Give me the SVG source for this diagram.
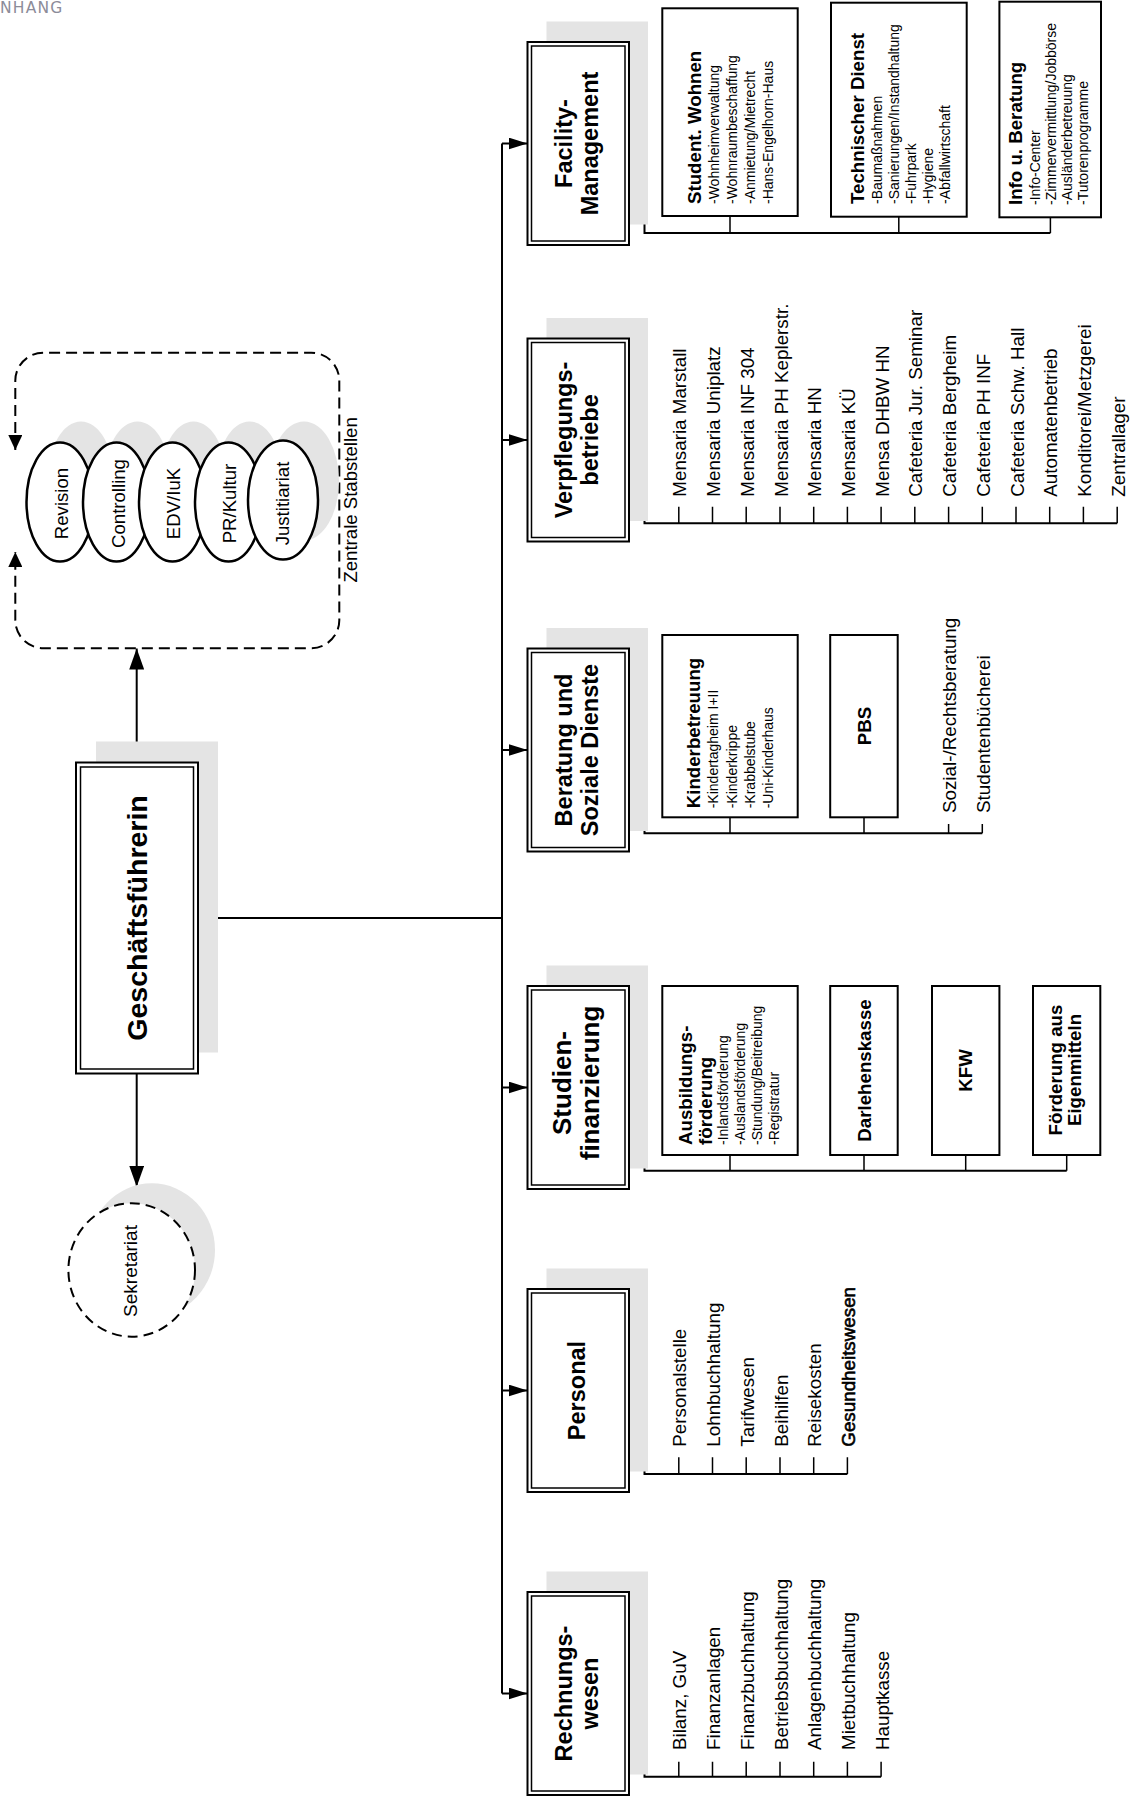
<svg xmlns="http://www.w3.org/2000/svg" width="1133" height="1796" viewBox="0 0 1133 1796">
<defs>
<style>
text { font-family: "Liberation Sans", Arial, sans-serif; fill: #000; }
.sh { fill: #e4e4e4; stroke: none; }
.box { fill: #fff; stroke: #000; stroke-width: 2; }
.inner { fill: none; stroke: #000; stroke-width: 1.5; }
.sub { fill: #fff; stroke: #000; stroke-width: 2; }
.ln { fill: none; stroke: #000; stroke-width: 2; }
.tk { fill: none; stroke: #000; stroke-width: 1.5; }
.dash { fill: none; stroke: #000; stroke-width: 2; stroke-dasharray: 11 6; }
.ell { fill: #fff; stroke: #000; stroke-width: 2.5; }
.mt { font-weight: bold; font-size: 23.5px; text-anchor: middle; }
.st { font-weight: bold; font-size: 18.7px; }
.sl { font-size: 14px; }
.li { font-size: 18.8px; }
.ct { font-size: 18.6px; text-anchor: middle; }
.bc { font-weight: bold; font-size: 18.7px; text-anchor: middle; }
</style>
<marker id="ah" markerUnits="userSpaceOnUse" markerWidth="19" markerHeight="12" viewBox="0 0 19 12" refX="19" refY="6" orient="auto"><path d="M0,0L19,6L0,12z" fill="#000"/></marker>
<marker id="ahL" markerUnits="userSpaceOnUse" markerWidth="21" markerHeight="15" viewBox="0 0 21 15" refX="21" refY="7.5" orient="auto"><path d="M0,0L21,7.5L0,15z" fill="#000"/></marker>
<marker id="ahS" markerUnits="userSpaceOnUse" markerWidth="15" markerHeight="14" viewBox="0 0 15 14" refX="15" refY="7" orient="auto-start-reverse"><path d="M0,0L15,7L0,14z" fill="#000"/></marker>
</defs>

<text x="0" y="12.5" style="font-family:'DejaVu Sans',sans-serif;font-size:15.5px;letter-spacing:1.2px;fill:#8c8c99">NHANG</text>

<g id="connectors">
  <path class="ln" d="M502,143.5V1693.5"/>
  <path class="ln" d="M502,143.5H527.5" marker-end="url(#ah)"/>
  <path class="ln" d="M502,440H527.5" marker-end="url(#ah)"/>
  <path class="ln" d="M502,750H527.5" marker-end="url(#ah)"/>
  <path class="ln" d="M502,1087.5H527.5" marker-end="url(#ah)"/>
  <path class="ln" d="M502,1390.5H527.5" marker-end="url(#ah)"/>
  <path class="ln" d="M502,1693.5H527.5" marker-end="url(#ah)"/>
  <path class="ln" d="M198,918H502"/>
  <path class="ln" d="M136.7,762.5V648.5" marker-end="url(#ahL)"/>
  <path class="ln" d="M136.7,1073.5V1186.7" marker-end="url(#ahL)"/>
  <path class="dash" d="M15.3,450V381A28,28 0 0 1 43.3,352.7H311.3A28,28 0 0 1 339.3,380.7V620.2A28,28 0 0 1 311.3,648.2H43.3A28,28 0 0 1 15.3,620.2V552" marker-start="url(#ahS)" marker-end="url(#ahS)"/>
  <path class="ln" d="M629,143.5H644.5V233H1050.4"/>
  <path class="tk" d="M730,216V233M898.8,216.7V233M1050.4,217.3V233"/>
  <path class="ln" d="M629,440H644.5V523.3H1117.2"/>
  <path class="tk" d="M678.8,506.7V523.3M712.5,506.7V523.3M746.2,506.7V523.3M780,506.7V523.3M813.7,506.7V523.3M847.4,506.7V523.3M881.1,506.7V523.3M914.8,506.7V523.3M948.6,506.7V523.3M982.3,506.7V523.3M1016,506.7V523.3M1049.7,506.7V523.3M1083.4,506.7V523.3M1117.2,506.7V523.3"/>
  <path class="ln" d="M629,750H644.5V833.3H982.3"/>
  <path class="tk" d="M730,817.3V833.3M864,817.3V833.3M948.6,824V833.3M982.3,824V833.3"/>
  <path class="ln" d="M629,1087.5H644.5V1170.7H1066.7"/>
  <path class="tk" d="M730,1155V1170.7M864,1155V1170.7M965.7,1155V1170.7M1066.7,1155V1170.7"/>
  <path class="ln" d="M629,1390.5H644.5V1474H847.4"/>
  <path class="tk" d="M678.8,1457.3V1474M712.5,1457.3V1474M746.2,1457.3V1474M780,1457.3V1474M813.7,1457.3V1474M847.4,1457.3V1474"/>
  <path class="ln" d="M629,1693.5H644.5V1776.7H881.1"/>
  <path class="tk" d="M678.8,1761.7V1776.7M712.5,1761.7V1776.7M746.2,1761.7V1776.7M780,1761.7V1776.7M813.7,1761.7V1776.7M847.4,1761.7V1776.7M881.1,1761.7V1776.7"/>
</g>

<g id="stabstellen">
  <ellipse class="sh" cx="81" cy="481" rx="33.5" ry="59.5"/>
  <ellipse class="sh" cx="137.5" cy="481" rx="33.5" ry="59.5"/>
  <ellipse class="sh" cx="193.5" cy="481" rx="33.5" ry="59.5"/>
  <ellipse class="sh" cx="249.5" cy="481" rx="33.5" ry="59.5"/>
  <ellipse class="sh" cx="304" cy="481" rx="35" ry="59.5"/>
  <g id="revision"><ellipse class="ell" cx="60" cy="502" rx="33.5" ry="59.5"/><text class="ct" transform="translate(67.5,503.5) rotate(-90)">Revision</text></g>
  <g id="controlling"><ellipse class="ell" cx="116.5" cy="502" rx="33.5" ry="59.5"/><text class="ct" transform="translate(124.5,503.5) rotate(-90)">Controlling</text></g>
  <g id="edv"><ellipse class="ell" cx="172.5" cy="502" rx="33.5" ry="59.5"/><text class="ct" transform="translate(180,503.5) rotate(-90)">EDV/IuK</text></g>
  <g id="pr"><ellipse class="ell" cx="228.5" cy="502" rx="33.5" ry="59.5"/><text class="ct" transform="translate(236,503.5) rotate(-90)">PR/Kultur</text></g>
  <g id="justitiariat"><ellipse class="ell" cx="283" cy="500" rx="35" ry="59.5"/><text class="ct" transform="translate(289,503.5) rotate(-90)">Justitiariat</text></g>
  <text style="font-size:18.6px" transform="translate(356.5,582.6) rotate(-90)">Zentrale Stabstellen</text>
</g>

<g id="sekretariat">
  <ellipse class="sh" cx="151.7" cy="1250" rx="63.3" ry="66.7"/>
  <ellipse cx="131.7" cy="1270" rx="63.3" ry="66.7" fill="#fff" stroke="#000" stroke-width="2" stroke-dasharray="10 6"/>
  <text class="ct" style="font-size:19px" transform="translate(137.3,1271) rotate(-90)">Sekretariat</text>
</g>

<g id="geschaeftsfuehrerin">
  <rect class="sh" x="96" y="741.5" width="122" height="311"/>
  <rect class="box" x="76" y="762.5" width="122" height="311"/>
  <rect class="inner" x="80.5" y="767" width="113" height="302"/>
  <text style="font-weight:bold;font-size:28.5px;text-anchor:middle" transform="translate(146.5,918) rotate(-90)">Geschäftsführerin</text>
</g>

<g id="facility">
  <rect class="sh" x="546.5" y="21.5" width="101.5" height="203"/>
  <rect class="box" x="527.5" y="42" width="101.5" height="203"/>
  <rect class="inner" x="531.5" y="46" width="93.5" height="195"/>
  <g transform="translate(0,143.5) rotate(-90)"><text class="mt" y="571.5">Facility-</text><text class="mt" y="598">Management</text></g>
</g>
<g id="student-wohnen">
  <rect class="sub" x="662.3" y="8.3" width="135.4" height="207.7"/>
  <g transform="translate(0,204) rotate(-90)">
    <text class="st" y="701">Student. Wohnen</text>
    <text class="sl" y="719">-Wohnheimverwaltung</text>
    <text class="sl" y="737">-Wohnraumbeschaffung</text>
    <text class="sl" y="755">-Anmietung/Mietrecht</text>
    <text class="sl" y="773">-Hans-Engelhorn-Haus</text>
  </g>
</g>
<g id="technischer-dienst">
  <rect class="sub" x="831" y="2.7" width="135.7" height="214"/>
  <g transform="translate(0,204) rotate(-90)">
    <text class="st" y="864">Technischer Dienst</text>
    <text class="sl" y="881.5">-Baumaßnahmen</text>
    <text class="sl" y="898.5">-Sanierungen/Instandhaltung</text>
    <text class="sl" y="915.5">-Fuhrpark</text>
    <text class="sl" y="932.5">-Hygiene</text>
    <text class="sl" y="949.5">-Abfallwirtschaft</text>
  </g>
</g>
<g id="info-beratung">
  <rect class="sub" x="999.4" y="1.7" width="101.6" height="215.6"/>
  <g transform="translate(0,205) rotate(-90)">
    <text class="st" y="1022">Info u. Beratung</text>
    <text class="sl" y="1039.5">-Info-Center</text>
    <text class="sl" y="1055.5">-Zimmervermittlung/Jobbörse</text>
    <text class="sl" y="1071.5">-Ausländerbetreuung</text>
    <text class="sl" y="1087.5">-Tutorenprogramme</text>
  </g>
</g>

<g id="verpflegung">
  <rect class="sh" x="546.5" y="318" width="101.5" height="203"/>
  <rect class="box" x="527.5" y="338.5" width="101.5" height="203"/>
  <rect class="inner" x="531.5" y="342.5" width="93.5" height="195"/>
  <g transform="translate(0,440) rotate(-90)"><text class="mt" y="571.5">Verpflegungs-</text><text class="mt" y="598">betriebe</text></g>
</g>
<g id="verpflegung-items" class="li" transform="translate(0,496.7) rotate(-90)">
  <text y="686.3">Mensaria Marstall</text>
  <text y="720">Mensaria Uniplatz</text>
  <text y="753.7">Mensaria INF 304</text>
  <text y="787.5">Mensaria PH Keplerstr.</text>
  <text y="821.2">Mensaria HN</text>
  <text y="854.9">Mensaria KÜ</text>
  <text y="888.6">Mensa DHBW HN</text>
  <text y="922.3">Cafeteria Jur. Seminar</text>
  <text y="956.1">Cafeteria Bergheim</text>
  <text y="989.8">Cafeteria PH INF</text>
  <text y="1023.5">Cafeteria Schw. Hall</text>
  <text y="1057.2">Automatenbetrieb</text>
  <text y="1090.9">Konditorei/Metzgerei</text>
  <text y="1124.7">Zentrallager</text>
</g>

<g id="beratung">
  <rect class="sh" x="546.5" y="628" width="101.5" height="203"/>
  <rect class="box" x="527.5" y="648.5" width="101.5" height="203"/>
  <rect class="inner" x="531.5" y="652.5" width="93.5" height="195"/>
  <g transform="translate(0,750) rotate(-90)"><text class="mt" y="571.5">Beratung und</text><text class="mt" y="598">Soziale Dienste</text></g>
</g>
<g id="kinderbetreuung">
  <rect class="sub" x="662.3" y="635" width="135.4" height="182.3"/>
  <g transform="translate(0,808.3) rotate(-90)">
    <text class="st" y="700">Kinderbetreuung</text>
    <text class="sl" y="718">-Kindertagheim I+II</text>
    <text class="sl" y="736.5">-Kinderkrippe</text>
    <text class="sl" y="755">-Krabbelstube</text>
    <text class="sl" y="773">-Uni-Kinderhaus</text>
  </g>
</g>
<g id="pbs">
  <rect class="sub" x="830.2" y="635" width="67.5" height="182.3"/>
  <text class="bc" transform="translate(870.5,726) rotate(-90)">PBS</text>
</g>
<g id="beratung-items" class="li" transform="translate(0,813) rotate(-90)">
  <text y="956.1">Sozial-/Rechtsberatung</text>
  <text y="989.8">Studentenbücherei</text>
</g>

<g id="studienfinanzierung">
  <rect class="sh" x="546.5" y="965.5" width="101.5" height="203"/>
  <rect class="box" x="527.5" y="986" width="101.5" height="203"/>
  <rect class="inner" x="531.5" y="990" width="93.5" height="195"/>
  <g transform="translate(0,1083) rotate(-90)"><text class="mt" style="font-size:26px" y="571">Studien-</text><text class="mt" style="font-size:26px" y="598.5">finanzierung</text></g>
</g>
<g id="ausbildungsfoerderung">
  <rect class="sub" x="662.3" y="986" width="135.4" height="169"/>
  <g transform="translate(0,1145) rotate(-90)">
    <text class="st" y="692">Ausbildungs-</text>
    <text class="st" y="712">förderung</text>
    <text class="sl" y="728">-Inlandsförderung</text>
    <text class="sl" y="745">-Auslandsförderung</text>
    <text class="sl" y="762">-Stundung/Beitreibung</text>
    <text class="sl" y="779">-Registratur</text>
  </g>
</g>
<g id="darlehenskasse">
  <rect class="sub" x="830.2" y="986" width="67.5" height="169"/>
  <text class="bc" transform="translate(870.5,1070.5) rotate(-90)">Darlehenskasse</text>
</g>
<g id="kfw">
  <rect class="sub" x="932" y="986" width="67.4" height="169"/>
  <text class="bc" transform="translate(972,1070.5) rotate(-90)">KFW</text>
</g>
<g id="foerderung-eigenmittel">
  <rect class="sub" x="1033" y="986" width="67.3" height="169"/>
  <g transform="translate(0,1070) rotate(-90)"><text class="bc" y="1062">Förderung aus</text><text class="bc" y="1081">Eigenmitteln</text></g>
</g>

<g id="personal">
  <rect class="sh" x="546.5" y="1268.5" width="101.5" height="203"/>
  <rect class="box" x="527.5" y="1289" width="101.5" height="203"/>
  <rect class="inner" x="531.5" y="1293" width="93.5" height="195"/>
  <text class="mt" transform="translate(585,1390.5) rotate(-90)">Personal</text>
</g>
<g id="personal-items" class="li" transform="translate(0,1446.7) rotate(-90)">
  <text y="686.3">Personalstelle</text>
  <text y="720">Lohnbuchhaltung</text>
  <text y="753.7">Tarifwesen</text>
  <text y="787.5">Beihilfen</text>
  <text y="821.2">Reisekosten</text>
  <text y="854.9" style="stroke:#000;stroke-width:0.6px">Gesundheitswesen</text>
</g>

<g id="rechnungswesen">
  <rect class="sh" x="546.5" y="1571.5" width="101.5" height="203"/>
  <rect class="box" x="527.5" y="1592" width="101.5" height="203"/>
  <rect class="inner" x="531.5" y="1596" width="93.5" height="195"/>
  <g transform="translate(0,1693.5) rotate(-90)"><text class="mt" y="571.5">Rechnungs-</text><text class="mt" y="598">wesen</text></g>
</g>
<g id="rechnungswesen-items" class="li" transform="translate(0,1750) rotate(-90)">
  <text y="686.3">Bilanz, GuV</text>
  <text y="720">Finanzanlagen</text>
  <text y="753.7">Finanzbuchhaltung</text>
  <text y="787.5">Betriebsbuchhaltung</text>
  <text y="821.2">Anlagenbuchhaltung</text>
  <text y="854.9">Mietbuchhaltung</text>
  <text y="888.6">Hauptkasse</text>
</g>
</svg>
